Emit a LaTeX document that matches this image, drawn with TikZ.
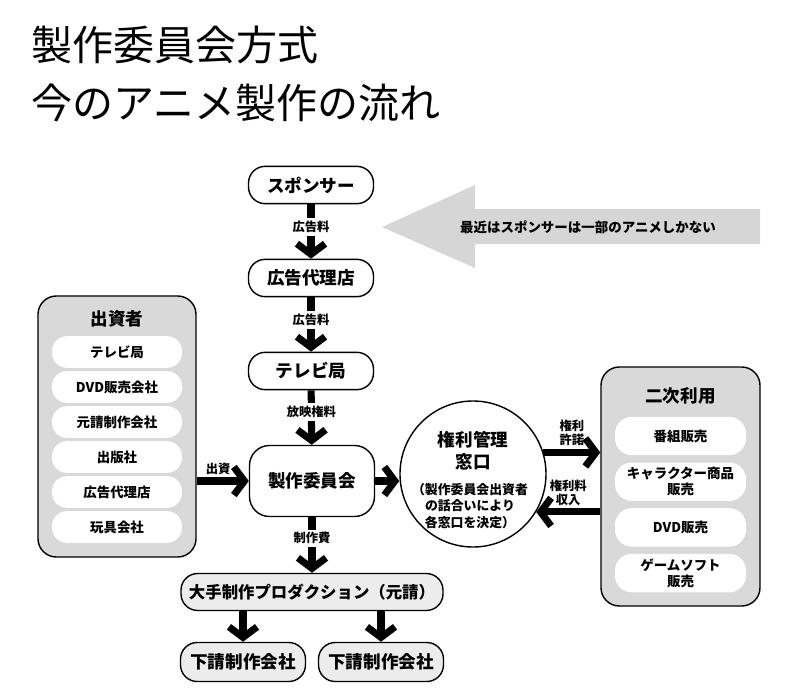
\documentclass[tikz,border=0pt]{standalone}
\usepackage{fontspec}
\setmainfont{Noto Sans CJK JP}
\usetikzlibrary{arrows.meta}

\definecolor{groupgray}{HTML}{D9D9D9}
\definecolor{pillgray}{HTML}{ECECEC}
\definecolor{notegray}{HTML}{D6D6D6}

\tikzset{
	pill/.style={draw,line width=1.2pt,fill=white,rounded corners=0.5cm,minimum width=3.75cm,minimum height=1.12cm,font=\fontsize{15pt}{18pt}\selectfont\bfseries},
	group/.style={draw,line width=1.2pt,fill=groupgray,rounded corners=0.55cm},
	item/.style={fill=white,rounded corners=0.45cm,minimum width=3.9cm,minimum height=0.95cm,align=center,font=\fontsize{11.5pt}{13pt}\selectfont\bfseries},
	flow/.style={line width=6pt,-{Straight Barb[length=9pt,width=24pt,sharp]}},
	flowlabel/.style={fill=white,inner sep=2.5pt,align=center,font=\fontsize{10.5pt}{12pt}\selectfont\bfseries}
}

\begin{document}
\begin{tikzpicture}[x=0.03cm,y=-0.03cm]
\useasboundingbox (0,0) rectangle (800,699);

%title
\node[anchor=west,inner sep=0pt,font=\fontsize{35pt}{40pt}\selectfont] (title1) at (31,45) {製作委員会方式};
\node[anchor=west,inner sep=0pt,font=\fontsize{35pt}{40pt}\selectfont] (title2) at (31,103) {今のアニメ製作の流れ};

%note arrow
\fill[notegray] (382,227) -- (475,185) -- (475,209) -- (760,209) -- (760,244) -- (475,244) -- (475,268) -- cycle;
\node[font=\fontsize{11.5pt}{13pt}\selectfont\bfseries] (note) at (588,227) {最近はスポンサーは一部のアニメしかない};

%main column
\node[pill] (spon) at (311,185) {スポンサー};
\node[pill] (adag) at (311,278) {広告代理店};
\node[pill] (tv) at (311,371) {テレビ局};
\node[pill,rounded corners=0.6cm,minimum height=2.13cm] (comm) at (312,481) {製作委員会};
\node[pill,fill=pillgray,minimum width=7.86cm,minimum height=1.11cm,font=\fontsize{14pt}{16pt}\selectfont\bfseries] (prod) at (312,592) {大手制作プロダクション（元請）};
\node[pill,fill=pillgray,minimum height=1.17cm] (sub1) at (243,662) {下請制作会社};
\node[pill,fill=pillgray,minimum height=1.17cm] (sub2) at (381,662) {下請制作会社};

\draw[flow] (spon) -- node[flowlabel,pos=0.42] (fee1) {広告料} (adag);
\draw[flow] (adag) -- node[flowlabel,pos=0.42] (fee2) {広告料} (tv);
\draw[flow] (tv) -- node[flowlabel,pos=0.4] (fee3) {放映権料} (comm);
\draw[flow] (comm) -- node[flowlabel,pos=0.38] (fee4) {制作費} (prod);
\draw[flow] (sub1 |- prod.south) -- (sub1);
\draw[flow] (sub2 |- prod.south) -- (sub2);

%investors on the left
\node[group,minimum width=4.74cm,minimum height=7.83cm] (inv) at (117,426.5) {};
\node[font=\fontsize{15pt}{18pt}\selectfont\bfseries] (invtitle) at (117,319) {出資者};
\foreach \t [count=\i] in {テレビ局,DVD販売会社,元請制作会社,出版社,広告代理店,玩具会社}{
	\node[item] (inv\i) at (117,{352+35*(\i-1)}) {\t};
}
\draw[flow] (inv.east |- comm) -- node[above,flowlabel,fill=none,xshift=-4pt] (fund) {出資} (comm);

%rights window
\node[draw,circle,line width=1.2pt,fill=white,minimum size=4.38cm] (rights) at (473,474) {};
\node[align=center,font=\fontsize{15pt}{19pt}\selectfont\bfseries] (rtitle) at (473,451) {権利管理\\窓口};
\node[align=center,font=\fontsize{11pt}{14pt}\selectfont\bfseries] (rnote) at (470,506) {（製作委員会出資者\\の話合いにより\\各窓口を決定）};
\draw[flow] (comm.east) -- (comm.east -| rights.west);

%secondary use on the right
\node[group,minimum width=4.77cm,minimum height=7.17cm] (sec) at (680.5,486.5) {};
\node[font=\fontsize{15pt}{18pt}\selectfont\bfseries] (sectitle) at (680.5,396) {二次利用};
\foreach \t [count=\i] in {番組販売,{キャラクター商品\\販売},DVD販売,{ゲームソフト\\販売}}{
	\node[item,minimum width=3.93cm,minimum height=1.15cm,rounded corners=0.5cm,font=\fontsize{11.5pt}{14pt}\selectfont\bfseries] (sec\i) at (680.5,{436+45.7*(\i-1)}) {\t};
}
\draw[flow] (rights.17) -- node[above,flowlabel,fill=none] (grant) {権利\\許諾} (rights.17 -| sec.west);
\draw[flow] (sec.west |- rights.-31) -- node[above,flowlabel,fill=none] (income) {権利料\\収入} (rights.-31);
\end{tikzpicture}
\end{document}
